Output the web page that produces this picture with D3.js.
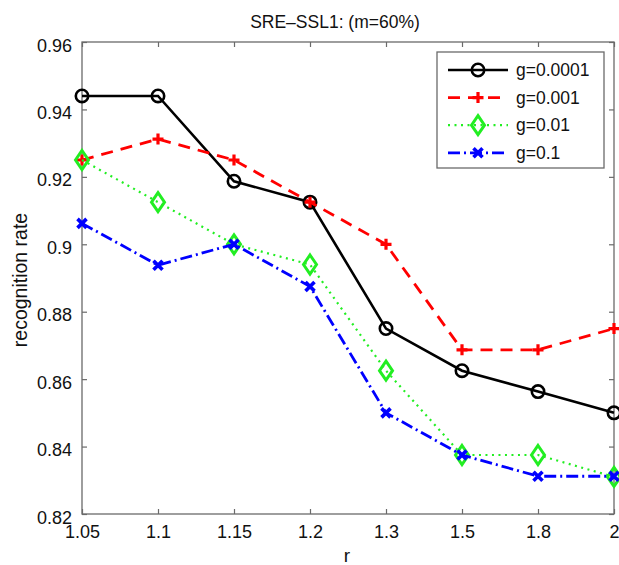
<!DOCTYPE html>
<html>
<head>
<meta charset="utf-8">
<script src="https://cdn.jsdelivr.net/npm/d3@7"></script>
<style>
  body { margin: 0; background: #fff; }
  svg text { font-family: "Liberation Sans", Arial, sans-serif; fill: #111; }
</style>
</head>
<body>
<svg id="chart" width="619" height="565"></svg>
<script>
// data
var rValues = ["1.05", "1.1", "1.15", "1.2", "1.3", "1.5", "1.8", "2"];
var yTicks = [0.82, 0.84, 0.86, 0.88, 0.9, 0.92, 0.94, 0.96];
var seriesNames = ["g=0.0001", "g=0.001", "g=0.01", "g=0.1"];
var g0001 = [0.944, 0.944, 0.9187, 0.9125, 0.875, 0.8625, 0.8563, 0.85];
var g001 = [0.925, 0.9312, 0.925, 0.9125, 0.9, 0.8687, 0.8687, 0.875];
var g01 = [0.925, 0.9125, 0.9, 0.894, 0.8625, 0.8375, 0.8375, 0.831];
var g1 = [0.9062, 0.8938, 0.9, 0.8875, 0.85, 0.8375, 0.8312, 0.8312];

var styles = [
	{ color: "#000", dash: null, width: 2.6, marker: "circle" },
	{ color: "#f00", dash: "12,8", width: 2.8, marker: "plus" },
	{ color: "#2e2", dash: "2,4.5", width: 2.2, marker: "diamond" },
	{ color: "#00f", dash: "12,4,2,4", width: 2.8, marker: "cross" }
];
var allSeries = [g0001, g001, g01, g1];

var plotLeft = 82, plotRight = 614, plotTop = 42, plotBottom = 514;
var svg = d3.select("#chart");

var x = d3.scalePoint().domain(rValues).range([plotLeft, plotRight]);
var y = d3.scaleLinear().domain([0.82, 0.96]).range([plotBottom, plotTop]);

// ticks (inward, mirrored)
var axisColor = "#6a6a6a";
var gx = svg.append("g").attr("transform", "translate(0," + plotBottom + ")")
	.call(d3.axisBottom(x).tickSize(-5).tickPadding(11));
var gxTop = svg.append("g").attr("transform", "translate(0," + plotTop + ")")
	.call(d3.axisTop(x).tickSize(-5).tickFormat(""));
var gy = svg.append("g").attr("transform", "translate(" + plotLeft + ",0)")
	.call(d3.axisLeft(y).tickValues(yTicks).tickSize(-5).tickPadding(10).tickFormat(d3.format("~g")));
var gyRight = svg.append("g").attr("transform", "translate(" + plotRight + ",0)")
	.call(d3.axisRight(y).tickValues(yTicks).tickSize(-5).tickFormat(""));
[gx, gxTop, gy, gyRight].forEach(function(g) {
	g.attr("font-size", null).attr("font-family", null);
	g.select(".domain").remove();
	g.selectAll(".tick line").attr("stroke", axisColor).attr("stroke-width", 1.2);
	g.selectAll(".tick text").attr("font-size", 18).attr("fill", "#111");
});
gy.selectAll(".tick text").attr("dy", "0.5em");
svg.append("rect").attr("x", plotLeft).attr("y", plotTop).attr("width", plotRight - plotLeft).attr("height", plotBottom - plotTop)
	.attr("fill", "none").attr("stroke", axisColor).attr("stroke-width", 1.3);

// titles
svg.append("text").attr("x", 335).attr("y", 28).attr("text-anchor", "middle").attr("font-size", 17.5)
	.text("SRE\u2013SSL1: (m=60%)");
svg.append("text").attr("x", 347).attr("y", 562).attr("text-anchor", "middle").attr("font-size", 19).text("r");
svg.append("text").attr("transform", "translate(27,280) rotate(-90)").attr("text-anchor", "middle")
	.attr("font-size", 19.5).text("recognition rate");

function drawMarker(g, type, color, cx, cy) {
	if (type === "circle") {
		g.append("circle").attr("cx", cx).attr("cy", cy).attr("r", 6.2)
			.attr("fill", "none").attr("stroke", color).attr("stroke-width", 2.6);
	} else if (type === "plus") {
		g.append("path").attr("d", "M" + (cx - 5.5) + "," + cy + "H" + (cx + 5.5) + "M" + cx + "," + (cy - 5.5) + "V" + (cy + 5.5))
			.attr("stroke", color).attr("stroke-width", 3.2).attr("fill", "none");
	} else if (type === "diamond") {
		g.append("path").attr("d", "M" + cx + "," + (cy - 9.5) + "L" + (cx + 6.5) + "," + cy + "L" + cx + "," + (cy + 9.5) + "L" + (cx - 6.5) + "," + cy + "Z")
			.attr("stroke", color).attr("stroke-width", 3).attr("fill", "none");
	} else {
		g.append("path").attr("d", "M" + (cx - 4.5) + "," + (cy - 4.5) + "L" + (cx + 4.5) + "," + (cy + 4.5) + "M" + (cx + 4.5) + "," + (cy - 4.5) + "L" + (cx - 4.5) + "," + (cy + 4.5))
			.attr("stroke", color).attr("stroke-width", 3.6).attr("fill", "none");
	}
}

var line = d3.line().x(function(d, i) { return x(rValues[i]); }).y(function(d) { return y(d); });

allSeries.forEach(function(vals, k) {
	var s = styles[k];
	var g = svg.append("g");
	g.append("path").datum(vals).attr("d", line).attr("fill", "none")
		.attr("stroke", s.color).attr("stroke-width", s.width)
		.attr("stroke-dasharray", s.dash);
	vals.forEach(function(v, i) { drawMarker(g, s.marker, s.color, x(rValues[i]), y(v)); });
});

// legend
var lg = svg.append("g");
lg.append("rect").attr("x", 437).attr("y", 52).attr("width", 167).attr("height", 116)
	.attr("fill", "#fff").attr("stroke", axisColor).attr("stroke-width", 1.3);
seriesNames.forEach(function(name, k) {
	var s = styles[k];
	var ly = 70 + k * 27.6;
	lg.append("line").attr("x1", 448).attr("x2", 508).attr("y1", ly).attr("y2", ly)
		.attr("stroke", s.color).attr("stroke-width", s.width).attr("stroke-dasharray", s.dash);
	drawMarker(lg, s.marker, s.color, 478, ly);
	lg.append("text").attr("x", 516).attr("y", ly + 6).attr("font-size", 17.5).text(name);
});
</script>
</body>
</html>
